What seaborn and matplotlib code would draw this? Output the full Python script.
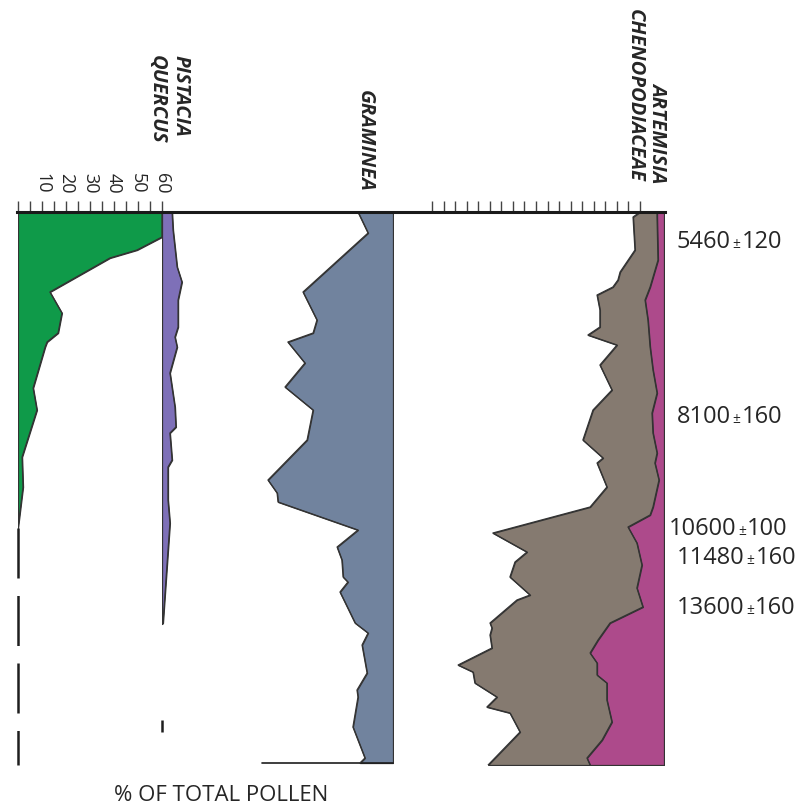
import matplotlib
matplotlib.use("Agg")
import matplotlib.pyplot as plt
import matplotlib.transforms as mtransforms
from matplotlib.offsetbox import TextArea, HPacker, AnnotationBbox
import numpy as np
import seaborn as sns

# ---------------------------------------------------------------- data
# depth below core top (cm) and percentage of total pollen for each taxon

quercus_depth = [0, 25, 38, 46, 80, 101, 121, 130, 135, 176, 198, 245, 275, 316]
quercus_pct = [60, 60, 49.6, 38.3, 13.3, 18.3, 16.7, 12.1, 11.3, 6.3, 7.9, 1.7, 2.1, 0]
quercus_gap = [316, 553]          # interval with no Quercus counts (dashed)

pistacia_depth = [0, 18, 55, 70, 88, 115, 125, 135, 161, 195, 215, 221, 248, 255,
                  288, 311, 411, 412]
pistacia_pct = [4.2, 4.6, 6.3, 8.3, 6.7, 6.7, 5.4, 6.3, 3.3, 5.4, 5.8, 3.3, 4.2, 2.5,
                2.5, 3.3, 0.4, 0]
pistacia_trace = [508, 520]       # isolated trace occurrence

gramineae_depth = [0, 21, 80, 108, 121, 130, 151, 175, 198, 228, 268, 281, 290, 318,
                   335, 348, 365, 370, 380, 411, 421, 433, 461, 478, 485, 515, 546, 551]
gramineae_pct = [14.6, 10.4, 37.5, 31.7, 33.3, 43.8, 36.7, 45, 33.3, 35.8, 52.1, 48.3,
                 47.9, 14.6, 23.3, 21.3, 20.8, 18.8, 22.1, 15.8, 10.4, 12.9, 10.8, 15,
                 14.6, 16.7, 11.7, 13.8]
gramineae_base = 54.6             # extent of the basal sample line

artemisia_depth = [0, 5, 48, 75, 88, 108, 135, 158, 181, 201, 221, 241, 251, 268, 295,
                   303, 315, 331, 353, 376, 395, 411, 428, 441, 451, 463, 471, 488, 510,
                   528, 546, 553]
artemisia_pct = [2.9, 2.9, 2.5, 5.8, 7.9, 6.7, 5.8, 4.6, 2.9, 5, 4.6, 2.9, 3.8, 2.1, 4.6,
                 5.8, 15, 11.3, 9.2, 11.3, 8.8, 22.5, 27.5, 30.8, 27.9, 27.9, 23.8, 23.8,
                 21.7, 25.8, 32.1, 30.8]

# Chenopodiaceae stacked on Artemisia (cumulative %)
cheno_depth = [0, 5, 38, 60, 68, 75, 83, 98, 115, 123, 133, 153, 178, 198, 228, 246, 251,
               275, 295, 321, 340, 350, 365, 383, 388, 411, 416, 423, 436, 453, 460, 471,
               485, 495, 501, 520, 553]
cheno_cum = [10, 12.9, 12.1, 18.3, 19.2, 21.3, 27.9, 26.7, 26.7, 31.7, 19.6, 26.7, 21.7,
             29.6, 33.8, 25.4, 27.9, 23.8, 30.8, 71.3, 57.1, 62.1, 64.2, 55.8, 61.3, 72.5,
             71.7, 72.5, 71.7, 85.8, 79.6, 78.8, 69.6, 73.8, 64.2, 60, 73.3]

# radiocarbon ages (yr BP) and their sample depths
c14_depth = [30, 205, 317, 346, 396]
c14_age = ["5460", "8100", "10600", "11480", "13600"]
c14_err = ["120", "160", "100", "160", "160"]

quercus_ticks = list(range(0, 61, 5))
herb_scale_ticks = list(range(0, 91, 5))

# ---------------------------------------------------------------- style
sns.set_theme(style="white")
plt.rcParams["font.family"] = ["Open Sans", "DejaVu Sans"]

C_QUERCUS = "#0f9a49"
C_PISTACIA = "#7e70b8"
C_GRAM = "#71839e"
C_CHENO = "#857a70"
C_ARTEM = "#ad4a8b"
EDGE = "#333333"
TEXT = "#262626"

W, H = 799, 805
fig = plt.figure(figsize=(W / 100, H / 100), dpi=100)
fig.patch.set_facecolor("white")

TOP, BOT = 212, 765
DEPTH_MAX = BOT - TOP
PX_PER_PCT = 2.4


def panel(x0, x1, y0=TOP, y1=BOT):
    ax = fig.add_axes([x0 / W, 1 - y1 / H, (x1 - x0) / W, (y1 - y0) / H])
    ax.set_ylim(DEPTH_MAX, 0)
    ax.set_xticks([])
    ax.set_yticks([])
    for s in ax.spines.values():
        s.set_visible(False)
    ax.patch.set_alpha(0)
    return ax


def curve(ax, depth, pct, color, zorder=2):
    ax.fill_betweenx(depth, 0, pct, facecolor=color, edgecolor=EDGE, linewidth=0.9,
                     zorder=zorder)
    sns.lineplot(x=pct, y=depth, orient="y", sort=False, estimator=None, ax=ax,
                 color=EDGE, linewidth=0.9, zorder=zorder + 0.5)
    ax.set_xlabel("")
    ax.set_ylabel("")


# Quercus
ax_q = panel(18, 162)
ax_q.set_xlim(0, 60)
curve(ax_q, quercus_depth, quercus_pct, C_QUERCUS)
ax_q.plot([0, 0], quercus_gap, color="#1e1e1e", lw=1.8, dashes=(20, 7),
          solid_capstyle="butt", clip_on=False)
ax_q.xaxis.tick_top()
ax_q.set_xticks(quercus_ticks)
ax_q.set_xticklabels(["" if (v == 0 or v % 10) else str(v) for v in quercus_ticks])
ax_q.tick_params(axis="x", top=True, bottom=False, direction="out", length=8, width=1,
                 color="#444444", labelsize=13, labelrotation=-90, pad=5,
                 labelcolor=TEXT)

# Pistacia
ax_p = panel(162, 162 + 38)
ax_p.set_xlim(0, 38 / PX_PER_PCT)
curve(ax_p, pistacia_depth, pistacia_pct, C_PISTACIA)
ax_p.plot([0, 0], pistacia_trace, color="#1e1e1e", lw=1.8, solid_capstyle="butt",
          clip_on=False)

# Gramineae (drawn leftwards from its baseline)
ax_g = panel(250, 393)
ax_g.set_xlim((393 - 250) / PX_PER_PCT, 0)
curve(ax_g, gramineae_depth, gramineae_pct, C_GRAM)
ax_g.plot([0, gramineae_base], [gramineae_depth[-1]] * 2, color="#1e1e1e", lw=1.2,
          clip_on=False)

# Chenopodiaceae + Artemisia (drawn leftwards, stacked)
ax_c = panel(420, 664)
ax_c.set_xlim((664 - 420) / PX_PER_PCT, 0)
curve(ax_c, cheno_depth, cheno_cum, C_CHENO, zorder=2)
curve(ax_c, artemisia_depth, artemisia_pct, C_ARTEM, zorder=3)

# tick scale above the herb panel
ax_s = panel(432, 640)
ax_s.set_xlim(0, 90)
ax_s.xaxis.tick_top()
ax_s.set_xticks(herb_scale_ticks)
ax_s.set_xticklabels([])
ax_s.tick_params(axis="x", top=True, bottom=False, direction="out", length=8, width=1,
                 color="#444444")

# common top line of the diagram
ax_f = panel(17, 665)
ax_f.set_zorder(10)
ax_f.spines["top"].set_visible(True)
ax_f.spines["top"].set_linewidth(2.2)
ax_f.spines["top"].set_color("#1a1a1a")

# taxon names
name_kw = dict(rotation=-90, fontsize=14.5, fontweight="bold", fontstyle="italic",
               color=TEXT, ha="center")
fig.text(157 / W, 1 - 55 / H, "QUERCUS", va="top", **name_kw)
fig.text(180 / W, 1 - 55 / H, "PISTACIA", va="top", **name_kw)
fig.text(365 / W, 1 - 192 / H, "GRAMINEA", va="bottom", **name_kw)
fig.text(635 / W, 1 - 182 / H, "CHENOPODIACEAE", va="bottom", **name_kw)
fig.text(658 / W, 1 - 182 / H, "ARTEMISIA", va="bottom", **name_kw)

# radiocarbon dates along the right side
trans = mtransforms.blended_transform_factory(fig.transFigure, ax_c.transData)
label_x = {"10600": 669}
for d, age, err in zip(c14_depth, c14_age, c14_err):
    big = dict(fontsize=17, color=TEXT)
    box = HPacker(children=[TextArea(age, textprops=big),
                            TextArea("±", textprops=dict(fontsize=10, color=TEXT)),
                            TextArea(err, textprops=big)],
                  align="baseline", pad=0, sep=1)
    ab = AnnotationBbox(box, (label_x.get(age, 677) / W, d), xycoords=trans,
                        box_alignment=(0, 0.5), frameon=False, pad=0)
    fig.add_artist(ab)

fig.text(221 / W, 1 - 795 / H, "% OF TOTAL POLLEN", ha="center", va="center",
         fontsize=16, color=TEXT)

fig.savefig("out.png", dpi=100, facecolor="white")
